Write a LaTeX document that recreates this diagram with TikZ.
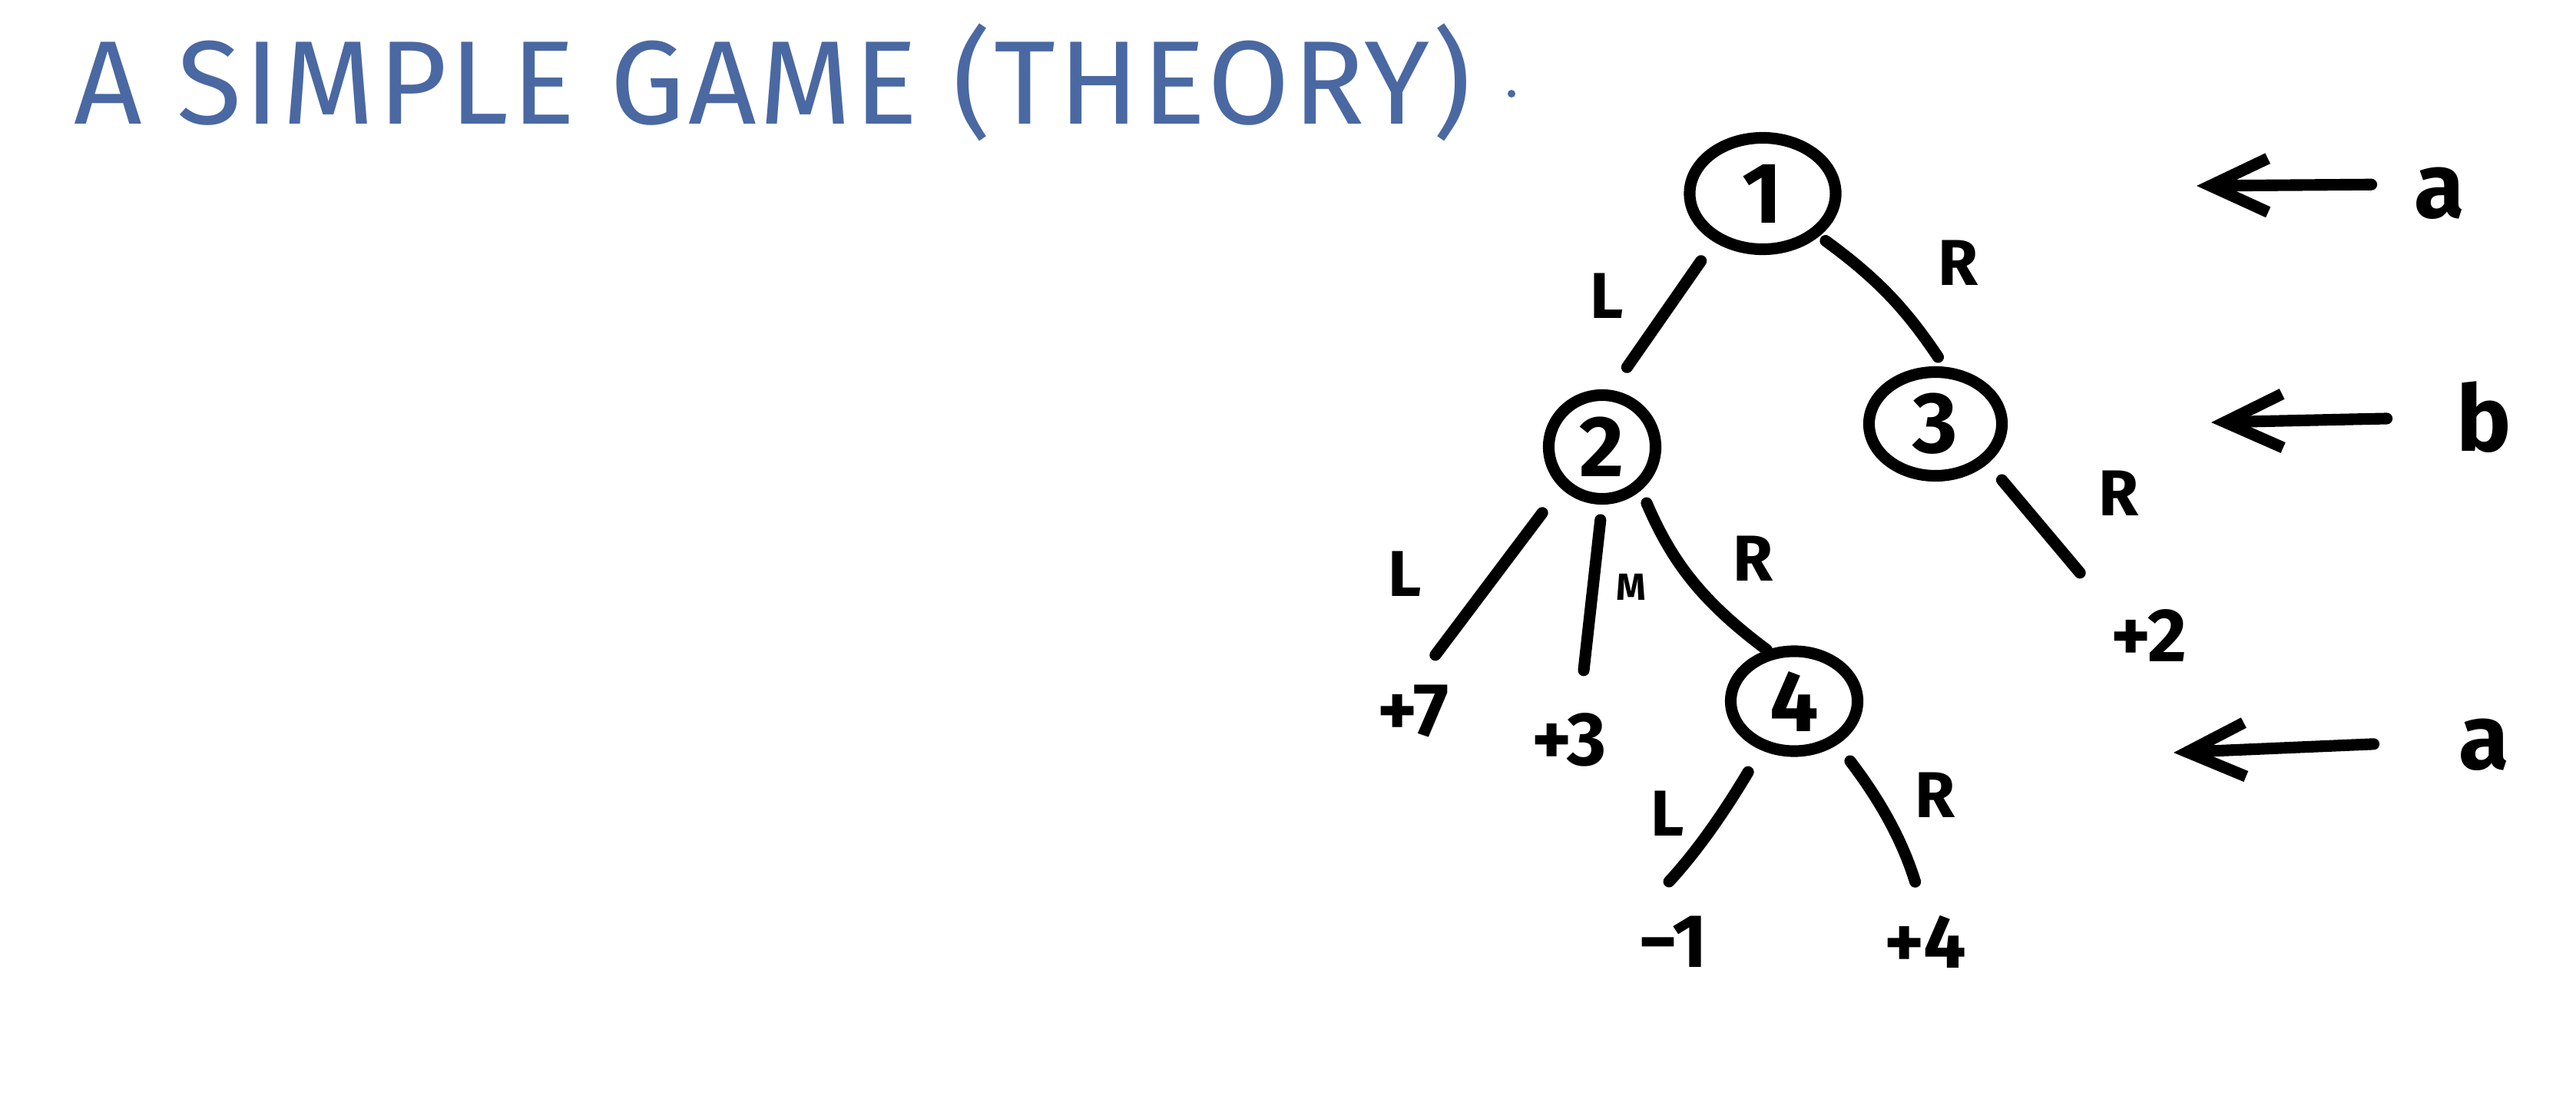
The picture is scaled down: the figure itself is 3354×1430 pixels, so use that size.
\documentclass[tikz,border=0pt]{standalone}
\usepackage{fontspec}
\setmainfont{Fira Sans}
\usetikzlibrary{arrows.meta, shapes.geometric}
\definecolor{markerblue}{RGB}{74,104,162}

\tikzset{
  gamenode/.style={draw, ellipse, line width=4.3pt, inner sep=0pt, font=\fontsize{32}{36}\selectfont\bfseries},
  move/.style={line width=4.3pt, line cap=round},
  movelabel/.style={inner sep=0pt, font=\fontsize{24}{28}\selectfont\bfseries},
  payoff/.style={inner sep=0pt, font=\fontsize{28}{32}\selectfont\bfseries},
  player/.style={inner sep=0pt, font=\fontsize{34}{40}\selectfont\bfseries},
  turn/.style={line width=4.3pt, line cap=round, -{Straight Barb[length=0.75cm,width=0.7cm]}},
  heading/.style={inner sep=0pt, text=markerblue, font=\fontsize{44}{50}\selectfont\addfontfeatures{LetterSpace=2.5}},
}

\begin{document}
\begin{tikzpicture}[x=0.01cm, y=-0.01cm]
    \useasboundingbox (0,0) rectangle (3354,1430);

    % title
    \node[heading, anchor=west] (title) at (96,107) {A SIMPLE GAME (THEORY)};
    \fill[markerblue] (1968,122) circle (5);

    % game tree
    \node[gamenode, minimum width=1.9cm, minimum height=1.45cm] (n1) at (2295,252) {1};
    \node[gamenode, minimum width=1.39cm, minimum height=1.35cm] (n2) at (2086,582) {2};
    \node[gamenode, minimum width=1.73cm, minimum height=1.35cm] (n3) at (2520,552) {3};
    \node[gamenode, minimum width=1.65cm, minimum height=1.3cm] (n4) at (2336,913) {4};

    \node[payoff] (p7) at (1840,926) {+7};
    \node[payoff] (p3) at (2043,963) {+3};
    \node[payoff] (p2) at (2798,828) {+2};
    \node[payoff] (m1) at (2178,1226) {−1};
    \node[payoff] (p4) at (2507,1226) {+4};

    \draw[move, shorten <=0.3cm, shorten >=0.36cm] (n1.225) -- (n2.81);
    \draw[move, shorten <=0.1cm, shorten >=0.15cm] (n1.323) to[bend left=10] (n3.81);
    \draw[move, shorten <=0.4cm, shorten >=0.48cm] (n2.225) -- (p7.north);
    \draw[move, shorten <=0.2cm, shorten >=0.55cm] (n2.270) -- (p3.70);
    \draw[move, shorten <=0.18cm] (n2.312) to[bend right=15] (n4.118);
    \draw[move, shorten <=0.28cm, shorten >=0.62cm] (n3.323) -- (p2.north west);
    \draw[move, shorten <=0.33cm, shorten >=0.6cm] (n4.236) to[bend left=6] (m1.north west);
    \draw[move, shorten <=0.27cm, shorten >=0.45cm] (n4.315) to[bend left=10] (p4.north);

    % move labels
    \node[movelabel] (l12) at (2092,385) {L};
    \node[movelabel] (r13) at (2550,342) {R};
    \node[movelabel] (l27) at (1829,747) {L};
    \node[movelabel, font=\fontsize{14}{16}\selectfont\bfseries] (m23) at (2124,764) {M};
    \node[movelabel] (r24) at (2283,727) {R};
    \node[movelabel] (r32) at (2759,642) {R};
    \node[movelabel] (l41) at (2171,1059) {L};
    \node[movelabel] (r44) at (2520,1035) {R};

    % whose turn
    \node[player] (rowa1) at (3176,252) {a};
    \node[player] (rowb) at (3234,543) {b};
    \node[player] (rowa2) at (3234,970) {a};
    \coordinate (tipa1) at (2860,242);
    \coordinate (tipb) at (2879,550);
    \coordinate (tipa2) at (2830,980);
    \draw[turn, shorten <=0.55cm] (rowa1.160) -- (tipa1);
    \draw[turn, shorten <=0.9cm] (rowb.west) -- (tipb);
    \draw[turn, shorten <=1.1cm] (rowa2.170) -- (tipa2);
\end{tikzpicture}
\end{document}
